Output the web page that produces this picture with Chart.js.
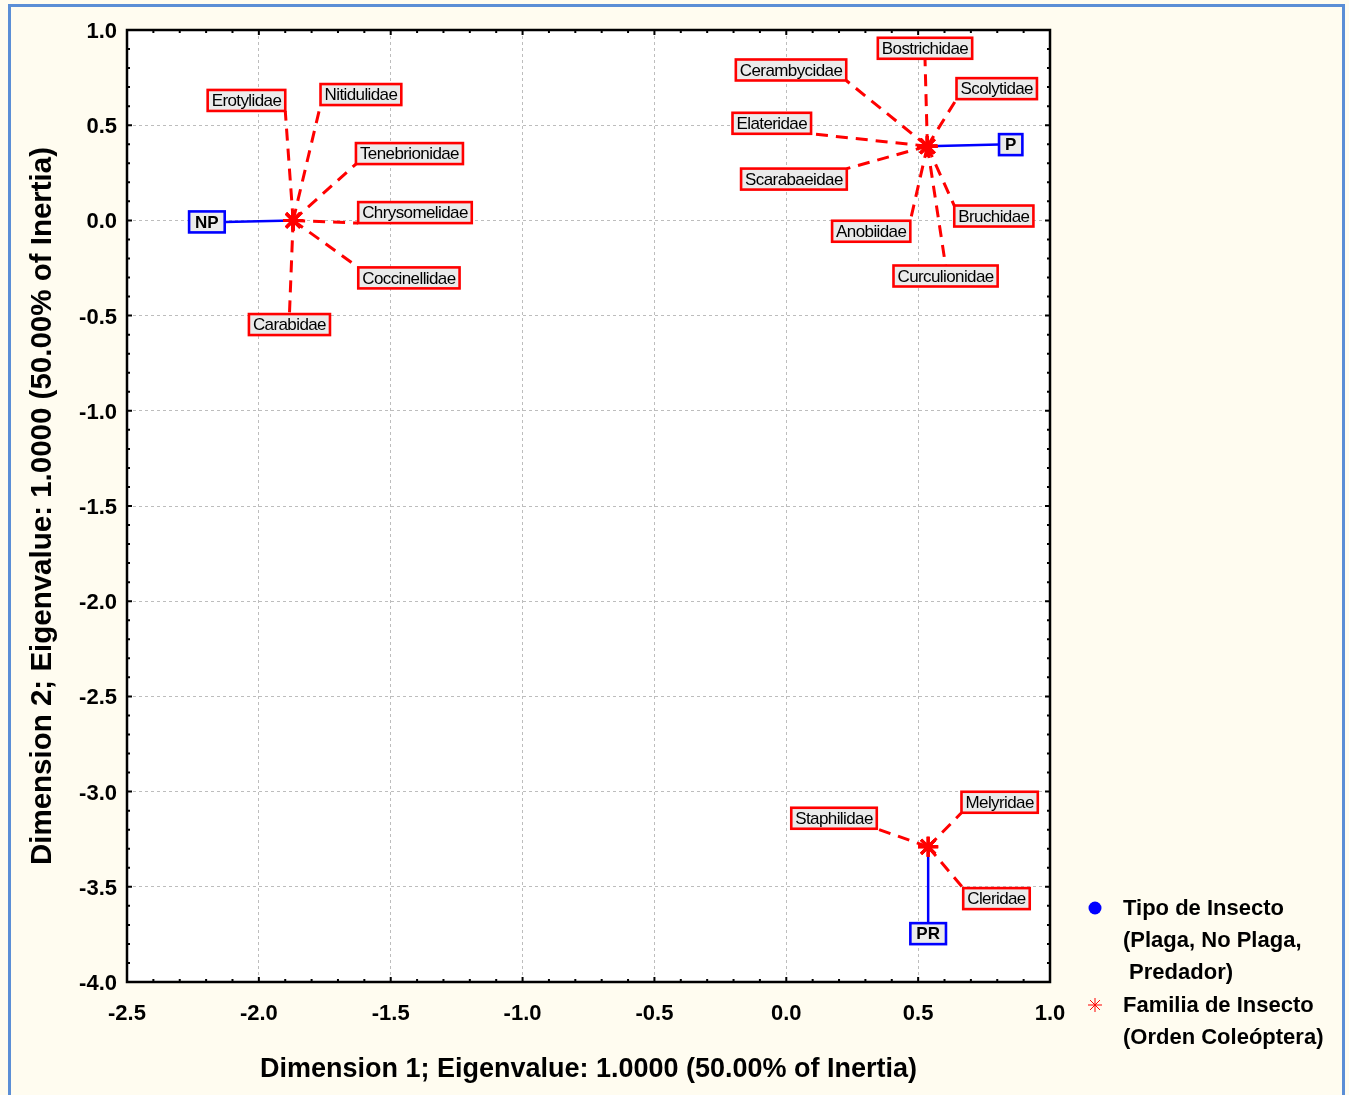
<!DOCTYPE html>
<html>
<head>
<meta charset="utf-8">
<script src="https://cdn.jsdelivr.net/npm/chart.js@4.4.0/dist/chart.umd.min.js"></script>
<style>
    html, body { margin: 0; padding: 0; background: #fffcf0; overflow: hidden; }
    #marco { position: absolute; left: 8px; top: 4px; width: 1337px; height: 1200px; border: 3px solid #5b8ed6; box-sizing: border-box; }
    #contenedor { position: absolute; left: 0; top: 0; width: 1349px; height: 1095px; }
    .leyenda { position: absolute; left: 1123px; font: bold 22px Arial, "Liberation Sans", sans-serif; line-height: 32px; color: #000; white-space: pre; }
</style>
</head>
<body>
<div id="marco"></div>
<div id="contenedor"><canvas id="grafico" width="1349" height="1095"></canvas></div>
<div class="leyenda" style="top:892px">Tipo de Insecto
(Plaga, No Plaga,
 Predador)</div>
<div class="leyenda" style="top:989px">Familia de Insecto
(Orden Coleóptera)</div>
<script>
// Puntos de "Tipo de Insecto" y posicion de sus etiquetas
const tiposInsecto = ['NP', 'P', 'PR'];
const tipoX = [-1.87, 0.535, 0.538];
const tipoY = [0.0, 0.39, -3.29];
const tipoEtiquetaX = [-2.197, 0.851, 0.538];
const tipoEtiquetaY = [-0.008, 0.398, -3.746];

// Puntos de "Familia de Insecto" y posicion de sus etiquetas
const familias = ['Erotylidae', 'Nitidulidae', 'Tenebrionidae', 'Chrysomelidae', 'Coccinellidae', 'Carabidae',
    'Bostrichidae', 'Cerambycidae', 'Scolytidae', 'Elateridae', 'Scarabaeidae', 'Anobiidae', 'Bruchidae', 'Curculionidae',
    'Staphilidae', 'Melyridae', 'Cleridae'];
const familiaX = [-1.87, -1.87, -1.87, -1.87, -1.87, -1.87,
    0.535, 0.535, 0.535, 0.535, 0.535, 0.535, 0.535, 0.535,
    0.538, 0.538, 0.538];
const familiaY = [0.0, 0.0, 0.0, 0.0, 0.0, 0.0,
    0.39, 0.39, 0.39, 0.39, 0.39, 0.39, 0.39, 0.39,
    -3.29, -3.29, -3.29];
const familiaEtiquetaX = [-2.047, -1.613, -1.429, -1.408, -1.431, -1.884,
    0.526, 0.018, 0.798, -0.055, 0.029, 0.322, 0.787, 0.604,
    0.181, 0.809, 0.797];
const familiaEtiquetaY = [0.630, 0.661, 0.351, 0.041, -0.302, -0.547,
    0.904, 0.790, 0.692, 0.510, 0.217, -0.057, 0.023, -0.292,
    -3.140, -3.056, -3.562];

const ticksEjeX = [-2.5, -2.0, -1.5, -1.0, -0.5, 0.0, 0.5, 1.0];
const ticksEjeY = [-4.0, -3.5, -3.0, -2.5, -2.0, -1.5, -1.0, -0.5, 0.0, 0.5, 1.0];

const TITULO_EJE = 'Dimension {n}; Eigenvalue: 1.0000 (50.00% of Inertia)';
const FUENTE = 'Arial, "Liberation Sans", sans-serif';

Chart.defaults.font.family = FUENTE;
Chart.defaults.color = '#000';

function construirCajas(chart) {
    const { ctx, scales: { x, y } } = chart;
    const cajas = [];
    ctx.save();
    ctx.font = '17px ' + FUENTE;
    ctx.letterSpacing = '-0.6px';
    familias.forEach((nombre, i) => {
        cajas.push({
            texto: nombre,
            cx: x.getPixelForValue(familiaEtiquetaX[i]),
            cy: y.getPixelForValue(familiaEtiquetaY[i]),
            w: ctx.measureText(nombre).width + 8,
            h: 21,
            px: x.getPixelForValue(familiaX[i]),
            py: y.getPixelForValue(familiaY[i]),
            color: '#ff0000',
            negrita: false
        });
    });
    ctx.font = 'bold 17px ' + FUENTE;
    ctx.letterSpacing = '0px';
    tiposInsecto.forEach((nombre, i) => {
        cajas.push({
            texto: nombre,
            cx: x.getPixelForValue(tipoEtiquetaX[i]),
            cy: y.getPixelForValue(tipoEtiquetaY[i]),
            w: ctx.measureText(nombre).width + 12,
            h: 21,
            px: x.getPixelForValue(tipoX[i]),
            py: y.getPixelForValue(tipoY[i]),
            color: '#0000ff',
            negrita: true
        });
    });
    ctx.restore();
    return cajas;
}

// punto de la caja (esquina o mitad de lado) mas cercano al punto
function anclaje(c) {
    const xs = [c.cx - c.w / 2, c.cx, c.cx + c.w / 2];
    const ys = [c.cy - c.h / 2, c.cy, c.cy + c.h / 2];
    let mejor = null, dmin = Infinity;
    xs.forEach((ax, i) => ys.forEach((ay, j) => {
        if (i === 1 && j === 1) return;
        const d = Math.hypot(ax - c.px, ay - c.py);
        if (d < dmin) { dmin = d; mejor = [ax, ay]; }
    }));
    return mejor;
}

const decoracion = {
    id: 'decoracion',
    beforeDraw(chart) {
        const { ctx, chartArea: a } = chart;
        ctx.save();
        ctx.fillStyle = '#ffffff';
        ctx.fillRect(a.left, a.top, a.right - a.left, a.bottom - a.top);
        ctx.restore();
    },
    beforeDatasetsDraw(chart) {
        const { ctx } = chart;
        ctx.save();
        construirCajas(chart).forEach(c => {
            const [ax, ay] = anclaje(c);
            ctx.beginPath();
            ctx.strokeStyle = c.color;
            if (c.negrita) {
                ctx.lineWidth = 2.5;
                ctx.setLineDash([]);
            } else {
                ctx.lineWidth = 3;
                ctx.setLineDash([12, 8]);
            }
            ctx.moveTo(c.px, c.py);
            ctx.lineTo(ax, ay);
            ctx.stroke();
        });
        ctx.restore();
    },
    afterDatasetsDraw(chart) {
        const { ctx, chartArea: a, scales: { x, y } } = chart;
        ctx.save();

        // marco del area de trazado
        ctx.strokeStyle = '#000';
        ctx.lineWidth = 2.5;
        ctx.strokeRect(a.left, a.top, a.right - a.left, a.bottom - a.top);

        // marcas hacia dentro en los cuatro lados, cada 0.1
        ctx.lineWidth = 2;
        ctx.beginPath();
        for (let k = 0; k <= Math.round((x.max - x.min) * 10); k++) {
            const v = x.min + k / 10;
            const px = x.getPixelForValue(v);
            const largo = k % 5 === 0 ? 5 : 3;
            ctx.moveTo(px, a.bottom); ctx.lineTo(px, a.bottom - largo);
            ctx.moveTo(px, a.top); ctx.lineTo(px, a.top + largo);
        }
        for (let k = 0; k <= Math.round((y.max - y.min) * 10); k++) {
            const v = y.min + k / 10;
            const py = y.getPixelForValue(v);
            const largo = k % 5 === 0 ? 5 : 3;
            ctx.moveTo(a.left, py); ctx.lineTo(a.left + largo, py);
            ctx.moveTo(a.right, py); ctx.lineTo(a.right - largo, py);
        }
        ctx.stroke();

        // cajas de etiquetas
        construirCajas(chart).forEach(c => {
            ctx.fillStyle = '#ebebeb';
            ctx.fillRect(c.cx - c.w / 2, c.cy - c.h / 2, c.w, c.h);
            ctx.strokeStyle = c.color;
            ctx.lineWidth = 2.6;
            ctx.setLineDash([]);
            ctx.strokeRect(c.cx - c.w / 2, c.cy - c.h / 2, c.w, c.h);
            ctx.fillStyle = '#000';
            ctx.font = (c.negrita ? 'bold ' : '') + '17px ' + FUENTE;
            ctx.letterSpacing = c.negrita ? '0px' : '-0.6px';
            ctx.textAlign = 'center';
            ctx.textBaseline = 'middle';
            ctx.fillText(c.texto, c.cx, c.cy + 1);
        });
        ctx.letterSpacing = '0px';

        // simbolos de la leyenda
        ctx.fillStyle = '#0000ff';
        ctx.strokeStyle = '#0000ff';
        Chart.helpers.drawPoint(ctx, { pointStyle: 'circle', radius: 6.5, borderWidth: 0, rotation: 0 }, 1095, 908);
        ctx.fillStyle = '#ff0000';
        ctx.strokeStyle = '#ff0000';
        ctx.lineWidth = 1;
        Chart.helpers.drawPoint(ctx, { pointStyle: 'star', radius: 7, borderWidth: 1, rotation: 0 }, 1095, 1005);
        ctx.restore();
    }
};

new Chart(document.getElementById('grafico'), {
    type: 'scatter',
    data: {
        datasets: [
            {
                label: 'Familia de Insecto (Orden Coleóptera)',
                data: familiaX.map((v, i) => ({ x: v, y: familiaY[i] })),
                pointStyle: 'star',
                pointRadius: 10,
                pointBorderWidth: 3,
                borderColor: '#ff0000',
                backgroundColor: '#ff0000',
                order: 1
            },
            {
                label: 'Tipo de Insecto (Plaga, No Plaga, Predador)',
                data: tipoX.map((v, i) => ({ x: v, y: tipoY[i] })),
                pointStyle: 'circle',
                pointRadius: 2,
                pointBorderWidth: 0,
                backgroundColor: '#0000ff',
                borderColor: '#0000ff',
                order: 2
            }
        ]
    },
    options: {
        responsive: false,
        animation: false,
        layout: { padding: { left: 0, top: 30, right: 299, bottom: 0 } },
        plugins: {
            legend: { display: false },
            tooltip: { enabled: false }
        },
        scales: {
            x: {
                type: 'linear',
                min: -2.5,
                max: 1.0,
                afterBuildTicks: s => { s.ticks = ticksEjeX.map(v => ({ value: v })); },
                afterFit: s => { s.height = 113; },
                ticks: {
                    callback: v => v.toFixed(1),
                    font: { size: 22, weight: 'bold' },
                    padding: 19,
                    maxRotation: 0
                },
                grid: { color: '#bdbdbd', lineWidth: 1, drawTicks: false },
                border: { display: false, dash: [3, 3] },
                title: {
                    display: true,
                    text: TITULO_EJE.replace('{n}', '1'),
                    font: { size: 27, weight: 'bold' },
                    padding: { top: 0, bottom: 9 }
                }
            },
            y: {
                type: 'linear',
                min: -4.0,
                max: 1.0,
                afterBuildTicks: s => { s.ticks = ticksEjeY.map(v => ({ value: v })); },
                afterFit: s => { s.width = 127; },
                ticks: {
                    callback: v => v.toFixed(1),
                    font: { size: 22, weight: 'bold' },
                    padding: 10,
                    labelOffset: 2
                },
                grid: { color: '#bdbdbd', lineWidth: 1, drawTicks: false },
                border: { display: false, dash: [3, 3] },
                title: {
                    display: true,
                    text: TITULO_EJE.replace('{n}', '2'),
                    font: { size: 29.5, weight: 'bold' },
                    padding: { top: 25, bottom: 0 }
                }
            }
        }
    },
    plugins: [decoracion]
});
</script>
</body>
</html>
